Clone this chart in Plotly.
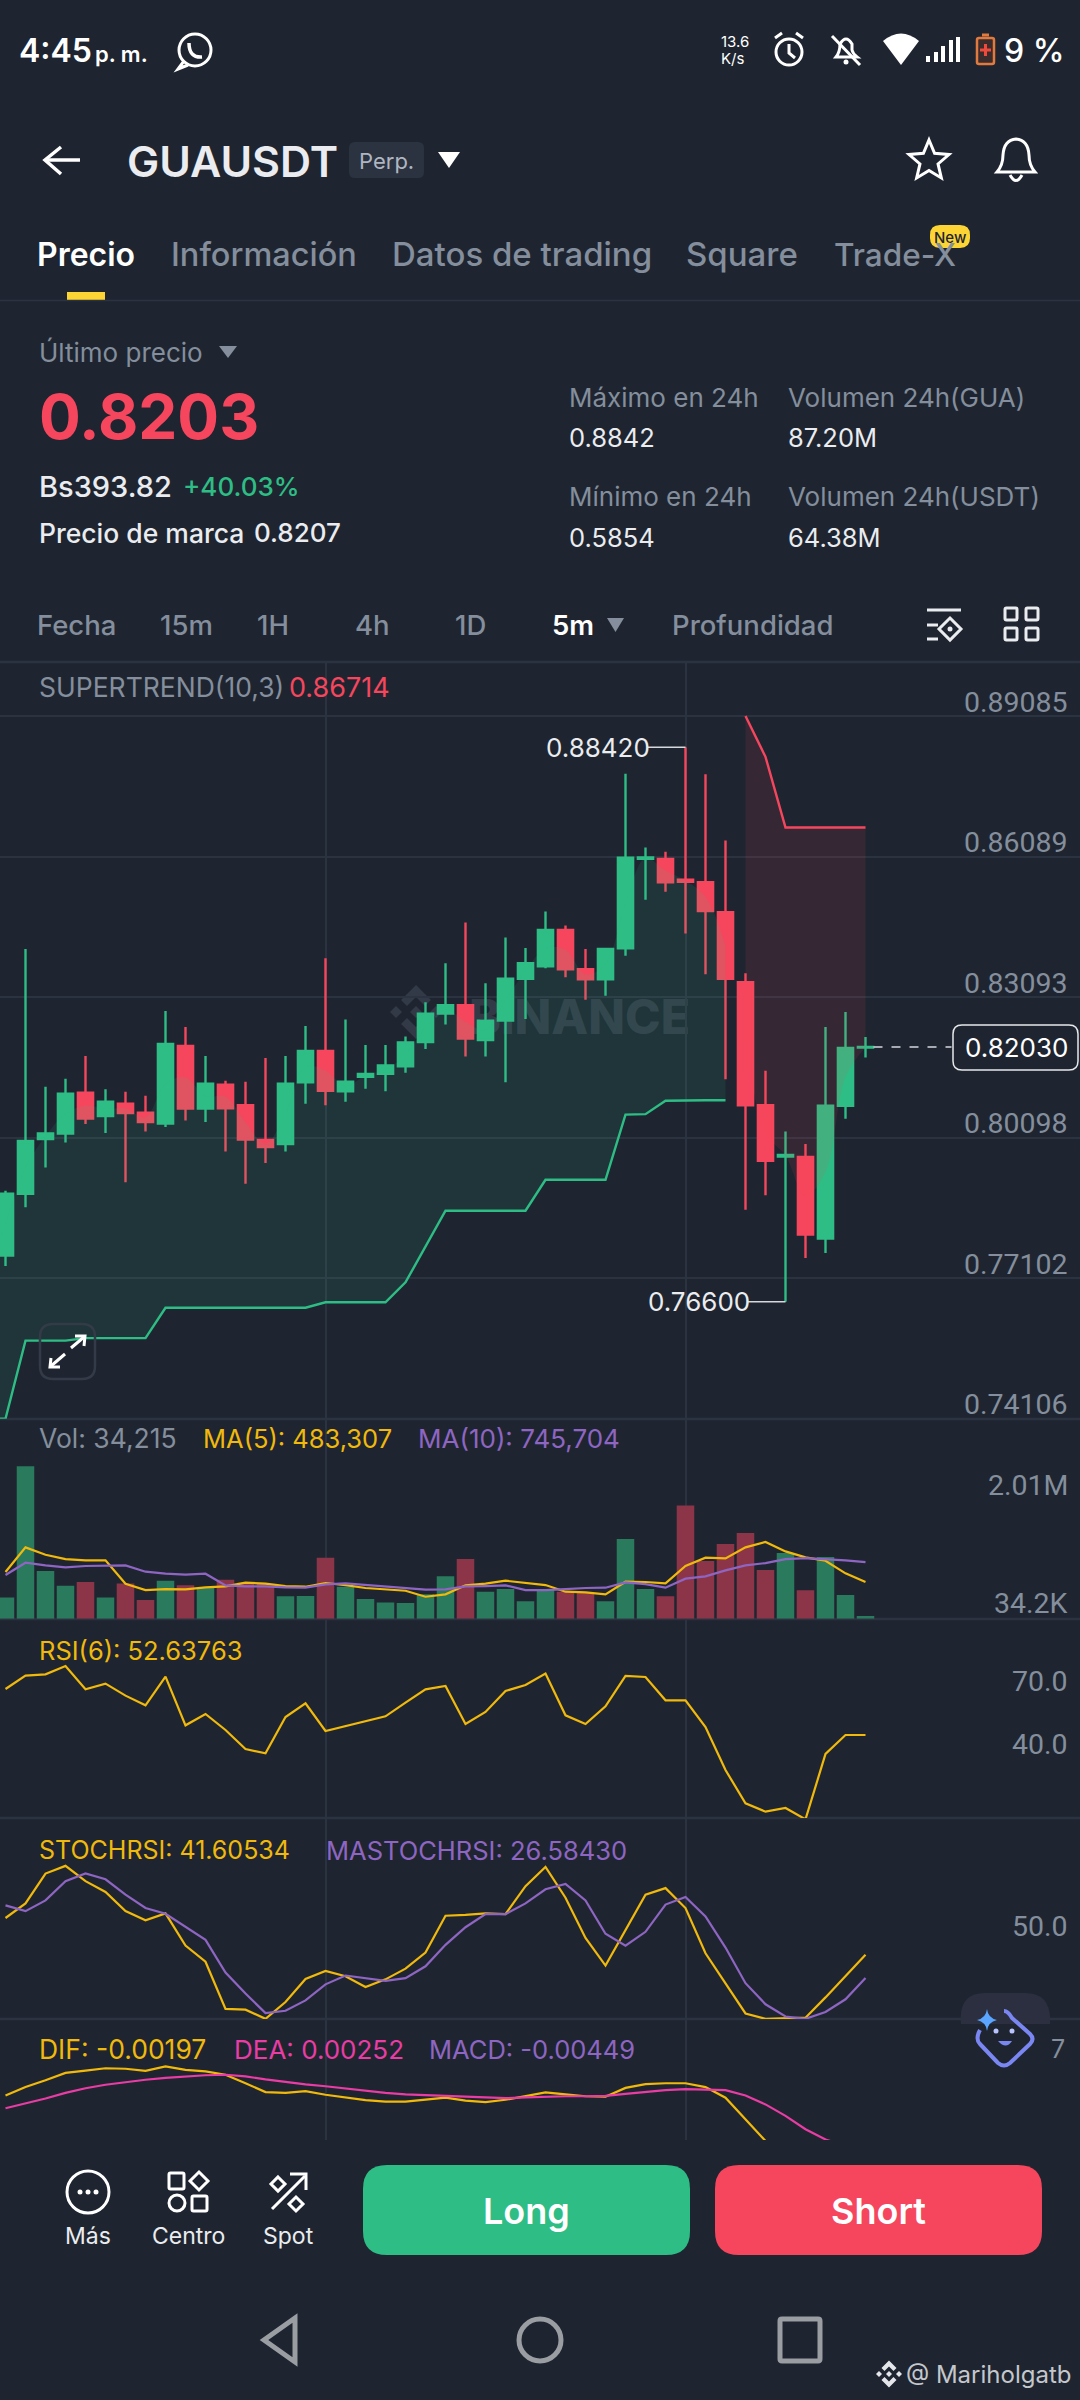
import math
import plotly.graph_objects as go

W = 1080
H = 2400
BG = "#1e2530"
GRAY = "#848e9c"
LIGHT = "#eaecef"
GREEN = "#2ebd85"
RED = "#f6465d"
YELLOW = "#f0b90b"
PURPLE = "#8e65c2"
PINK = "#e93ca4"
GRID = "#2c3340"
FONT = "Inter"

# candles, oldest first
candle_open = [.77585, .78901, .80068, .80184, .81054, .80556, .80821, .80630, .80396, .82051,
               .80715, .81224, .80789, .80046, .79961, .81277, .81945, .81086, .81394, .81457,
               .81616, .82136, .82741, .82921, .82179, .82592, .83484, .83749, .84523, .83685,
               .83473, .84131, .86040, .86040, .85595, .85542, .84905, .83409, .80789, .79696,
               .79686, .77946, .80778, .82015]
candle_high = [.78964, .84120, .81181, .81351, .81839, .81128, .81075, .80991, .82794, .82455,
               .81839, .81309, .81288, .81797, .81839, .82476, .83919, .82614, .82073, .82073,
               .82253, .82985, .83813, .84682, .83388, .84364, .84141, .84916, .84619, .84120,
               .84120, .87855, .86284, .86189, .88420, .87844, .86433, .83600, .81521, .80227,
               .79961, .82455, .82773, .82242]
candle_low = [.77362, .78614, .79463, .79993, .80386, .80195, .79145, .80227, .80322, .80460,
              .80428, .79802, .79113, .79558, .79802, .80821, .80789, .80863, .81139, .81086,
              .81479, .81988, .82508, .81829, .81829, .81277, .82624, .83706, .83515, .83038,
              .83123, .83972, .85170, .85340, .84449, .83579, .81341, .78561, .78869, .76600,
              .77532, .77638, .80502, .81807]
candle_close = [.78901, .80025, .80184, .81033, .80502, .80863, .80619, .80428, .82094, .80715,
                .81245, .80725, .80057, .79898, .81245, .81945, .81097, .81288, .81457, .81638,
                .82126, .82741, .82921, .82211, .82592, .83484, .83813, .84523, .83685, .83473,
                .84120, .86062, .86072, .85542, .85552, .84926, .83484, .80789, .79601, .79728,
                .78031, .80778, .82009, .82030]

# supertrend, first value is the candle just off the left edge
trend_up = [.74105, .74105, .75771, .75771, .75771, .75824, .75824, .75824, .75824, .76471,
            .76471, .76471, .76471, .76471, .76471, .76471, .76471, .76588, .76588, .76588,
            .76588, .77012, .77787, .78540, .78540, .78540, .78540, .78540, .79198, .79198,
            .79198, .79198, .80587, .80598, .80884, .80895, .80895, .80895]
trend_up_before = .7700
trend_down = [.89085, .88215, .86709, .86709, .86709, .86709, .86709]

volume = [281000, 2010000, 629000, 435000, 484000, 281000, 466000, 246000, 501000, 440000,
          409000, 515000, 475000, 457000, 295000, 299000, 805000, 422000, 259000, 215000,
          207000, 321000, 559000, 787000, 356000, 391000, 229000, 387000, 356000, 343000,
          229000, 1051000, 391000, 295000, 1495000, 761000, 985000, 1130000, 642000, 866000,
          374000, 814000, 312000, 34215]
vol_ma5 = [616000, 941000, 844000, 787000, 770000, 770000, 462000, 378000, 391000, 387000,
           413000, 427000, 475000, 462000, 431000, 422000, 471000, 444000, 405000, 387000,
           369000, 290000, 321000, 440000, 462000, 501000, 471000, 444000, 356000, 347000,
           321000, 488000, 484000, 466000, 695000, 805000, 796000, 941000, 1012000, 888000,
           809000, 765000, 598000, 483307]
vol_ma10 = [576000, 739000, 704000, 677000, 695000, 695000, 704000, 620000, 594000, 581000,
            594000, 440000, 427000, 427000, 413000, 409000, 453000, 466000, 444000, 422000,
            400000, 383000, 387000, 427000, 431000, 440000, 378000, 378000, 391000, 405000,
            409000, 479000, 457000, 409000, 528000, 559000, 638000, 704000, 734000, 787000,
            800000, 787000, 770000, 745704]

rsi6 = [74.44, 80.76, 81.39, 85.34, 74.28, 76.97, 71.28, 66.70, 80.29, 57.22,
        62.59, 55.01, 46.00, 43.95, 61.17, 67.65, 54.54, 56.91, 59.12, 61.49,
        67.96, 74.28, 75.86, 57.85, 63.54, 73.49, 76.34, 81.71, 61.96, 57.85,
        66.23, 80.60, 80.13, 69.07, 69.07, 56.43, 36.05, 20.25, 16.31, 18.04,
        12.67, 43.64, 52.64, 52.64]

stoch_rsi = [65.52, 74.99, 94.42, 99.40, 89.44, 82.46, 70.00, 64.03, 68.51, 47.58,
             37.12, 6.48, 5.98, 0.00, 10.96, 25.91, 31.14, 27.65, 20.68, 25.66,
             32.64, 43.10, 67.01, 67.51, 68.51, 68.01, 86.20, 98.65, 78.72, 52.57,
             34.63, 57.55, 80.72, 84.95, 72.00, 42.60, 22.67, 3.49, 0.00, 0.25,
             0.75, 13.95, 27.65, 41.60]
ma_stoch_rsi = [73.74, 70.00, 76.98, 89.44, 94.42, 90.68, 80.72, 72.00, 68.26, 60.04,
                51.32, 30.14, 16.44, 3.74, 5.23, 11.96, 22.42, 28.15, 26.41, 24.66,
                26.41, 34.13, 48.08, 59.54, 68.01, 68.01, 74.99, 84.20, 87.69, 76.98,
                55.31, 47.58, 56.55, 74.24, 79.22, 66.52, 46.34, 23.17, 9.47, 1.49,
                0.00, 4.48, 12.71, 26.58]

dif = [.00593, .00644, .00685, .00729, .00743, .00757, .00754, .00741, .00768, .00747,
       .00738, .00718, .00667, .00614, .00609, .00619, .00598, .00580, .00566, .00557,
       .00557, .00568, .00580, .00563, .00554, .00568, .00591, .00612, .00600, .00589,
       .00586, .00639, .00662, .00667, .00667, .00644, .00580, .00453, .00327, .00184,
       .00046, -.00069, -.00150, -.00197]
dea = [.00517, .00545, .00575, .00609, .00637, .00658, .00674, .00688, .00699, .00708,
       .00715, .00718, .00708, .00690, .00674, .00660, .00649, .00635, .00621, .00609,
       .00600, .00596, .00589, .00584, .00580, .00577, .00582, .00586, .00589, .00589,
       .00591, .00603, .00614, .00626, .00632, .00628, .00626, .00593, .00540, .00471,
       .00391, .00329, .00287, .00252]

price_ticks = [.89085, .86089, .83093, .80098, .77102, .74106]
price_tick_labels = ["0.89085", "0.86089", "0.83093", "0.80098", "0.77102", "0.74106"]

n = len(candle_open)
idx = list(range(n))
mids = [(o + c) / 2 for o, c in zip(candle_open, candle_close)]
n_up = len(trend_up) - 1
up_x = [-1] + idx[:n_up]
up_mid = [trend_up_before] + mids[:n_up]
down_x = idx[n_up:]
down_mid = mids[n_up:]
vol_colors = ["#2a7a5e" if c >= o else "#8c3548" for o, c in zip(candle_open, candle_close)]


def fx(x):
    return x / W


def fy(y):
    return 1 - y / H


def dom(top, bottom):
    return [fy(bottom), fy(top)]


shapes = []
notes = []


def pth(*parts):
    out = []
    i = 0
    while i < len(parts):
        p = parts[i]
        if isinstance(p, str):
            out.append(p)
            i += 1
        else:
            out.append(f"{fx(p):.5f},{fy(parts[i + 1]):.5f}")
            i += 2
    return " ".join(out)


def stroke(path, color="white", width=3, fill=None, layer="above"):
    shapes.append(dict(type="path", xref="paper", yref="paper", path=path, layer=layer,
                       line=dict(color=color, width=width),
                       fillcolor=fill if fill else "rgba(0,0,0,0)"))


def solid(path, color, layer="above"):
    shapes.append(dict(type="path", xref="paper", yref="paper", path=path, layer=layer,
                       line=dict(width=0), fillcolor=color))


def ring(cx, cy, r, color="white", width=3, fill=None):
    shapes.append(dict(type="circle", xref="paper", yref="paper",
                       x0=fx(cx - r), x1=fx(cx + r), y0=fy(cy + r), y1=fy(cy - r),
                       line=dict(color=color, width=width),
                       fillcolor=fill if fill else "rgba(0,0,0,0)"))


def dot(cx, cy, r, color="white"):
    shapes.append(dict(type="circle", xref="paper", yref="paper",
                       x0=fx(cx - r), x1=fx(cx + r), y0=fy(cy + r), y1=fy(cy - r),
                       line=dict(width=0), fillcolor=color))


def rrect(x0, y0, x1, y1, r):
    return pth("M", x0 + r, y0, "L", x1 - r, y0, "Q", x1, y0, x1, y0 + r, "L", x1, y1 - r,
               "Q", x1, y1, x1 - r, y1, "L", x0 + r, y1, "Q", x0, y1, x0, y1 - r, "L", x0, y0 + r,
               "Q", x0, y0, x0 + r, y0, "Z")


def diamond(cx, cy, r):
    return pth("M", cx, cy - r, "L", cx + r, cy, "L", cx, cy + r, "L", cx - r, cy, "Z")


def tri(x0, x1, y0, y1, color):
    solid(pth("M", x0, y0, "L", x1, y0, "L", (x0 + x1) / 2, y1, "Z"), color)


def text(x, y, s, size=24, color=LIGHT, anchor="left", weight=400):
    # annotations carry a little padding, so pull left aligned text back
    if anchor == "left":
        x -= 3
    notes.append(dict(x=fx(x), y=fy(y), xref="paper", yref="paper", text=s, showarrow=False,
                      xanchor=anchor, yanchor="middle", align=anchor,
                      font=dict(family=FONT, size=size, color=color, weight=weight)))


def axis_label(value, yref, s, shift):
    # Roboto has same width digits, so the column lines up like the app's
    notes.append(dict(x=fx(1070), y=value, xref="paper", yref=yref, text=s, showarrow=False,
                      xanchor="right", yanchor="middle", yshift=shift,
                      font=dict(family="Roboto", size=28.5, color=GRAY)))


def logo(cx, cy, s, color, layer="above"):
    solid(diamond(cx, cy, s * 0.3), color, layer)
    solid(diamond(cx - s, cy, s * 0.3), color, layer)
    solid(diamond(cx + s, cy, s * 0.3), color, layer)
    for d in [-1, 1]:
        solid(pth("M", cx, cy + d * 1.35 * s, "L", cx + 0.75 * s, cy + d * 0.6 * s,
                  "L", cx + 0.45 * s, cy + d * 0.3 * s, "L", cx, cy + d * 0.75 * s,
                  "L", cx - 0.45 * s, cy + d * 0.3 * s, "L", cx - 0.75 * s, cy + d * 0.6 * s, "Z"),
              color, layer)


# ---- status bar
text(20, 51, "4:45", 32, "white", weight=600)
text(96, 54, "p. m.", 22, "white", weight=600)
ring(195, 50, 16, "white", 3)
stroke(pth("M", 184, 61, "L", 178, 69, "L", 188, 65))
stroke(pth("M", 189, 43, "Q", 189, 58, 202, 57), "white", 3.5)
text(722, 41, "13.6", 15, "white")
text(722, 58, "K/s", 15, "white")
ring(789, 52, 13)
stroke(pth("M", 789, 44, "L", 789, 53, "L", 795, 58))
stroke(pth("M", 775, 38, "L", 782, 33))
stroke(pth("M", 796, 33, "L", 803, 38))
stroke(pth("M", 836, 57, "Q", 840, 52, 840, 44, "Q", 846, 34, 852, 44, "L", 852, 50, "Q", 853, 54, 857, 57, "Z"))
stroke(pth("M", 832, 36, "L", 860, 65))
dot(846, 62, 2.5)
solid(pth("M", 883, 41, "Q", 901, 26, 919, 41, "L", 901, 65, "Z"), "white")
for bx, bh in [(928, 6), (936, 10), (943, 16), (951, 22), (958, 25)]:
    stroke(pth("M", bx, 62, "L", bx, 62 - bh), "white", 4)
stroke(rrect(977, 38, 994, 64, 2), "#e07a3f", 2.5, "#3a2b2c")
stroke(pth("M", 982, 35, "L", 989, 35), "#e07a3f", 3)
stroke(pth("M", 980, 50, "L", 991, 50), "#f04a3c", 3)
stroke(pth("M", 985.5, 44, "L", 985.5, 56), "#f04a3c", 3)
text(1005, 51, "9 %", 32, "white", weight=500)

# ---- title row
stroke(pth("M", 80, 160, "L", 46, 160), "white", 3.5)
stroke(pth("M", 61, 147, "L", 45, 160, "L", 61, 174), "white", 3.5)
text(128, 161, "GUAUSDT", 43, LIGHT, weight=600)
solid(rrect(349, 142, 424, 178, 6), "#2b3240")
text(386, 161, "Perp.", 22, "#b0b6c0", "center")
tri(438, 460, 152, 168, "white")
star = []
for k in range(10):
    r = 21 if k % 2 == 0 else 9.5
    a = -math.pi / 2 + k * math.pi / 5
    star += ["M" if k == 0 else "L", 929 + r * math.cos(a), 161 + r * math.sin(a)]
stroke(pth(*star, "Z"), "white", 3)
stroke(pth("M", 997, 172, "Q", 1003, 165, 1003, 155, "Q", 1004, 140, 1016, 139, "Q", 1028, 140, 1029, 155,
           "Q", 1029, 165, 1035, 172, "Z"), "white", 3)
stroke(pth("M", 1010, 175, "Q", 1016, 186, 1022, 175), "white", 3)

# ---- tabs
text(38, 254, "Precio", 32, "white", weight=600)
text(172, 254, "Información", 32.5, GRAY, weight=500)
text(393, 254, "Datos de trading", 33, GRAY, weight=500)
text(687, 254, "Square", 33, GRAY, weight=500)
text(835, 254, "Trade-X", 31.5, GRAY, weight=500)
solid(rrect(930, 225, 970, 248, 10), "#fcd535")
text(950, 237, "New", 15, "#1e2530", "center", 500)
solid(pth("M", 67, 292, "L", 105, 292, "L", 105, 300, "L", 67, 300, "Z"), "#fcd535")
stroke(pth("M", 0, 300.5, "L", 1080, 300.5), GRID, 1.5)

# ---- price header
text(40, 352, "Último precio", 26, GRAY)
tri(219, 237, 346, 358, GRAY)
text(40, 416, "0.8203", 62, RED, weight=700)
text(40, 486, "Bs393.82", 29, LIGHT, weight=500)
text(184, 486, "+40.03%", 26, GREEN, weight=500)
text(40, 533, "Precio de marca", 26.5, LIGHT, weight=500)
text(255, 533, "0.8207", 26, LIGHT, weight=500)
text(570, 397, "Máximo en 24h", 26, GRAY)
text(570, 437, "0.8842", 25.5, LIGHT)
text(570, 497, "Mínimo en 24h", 26, GRAY)
text(570, 537, "0.5854", 25.5, LIGHT)
text(789, 397, "Volumen 24h(GUA)", 26, GRAY)
text(789, 437, "87.20M", 25.5, LIGHT)
text(789, 497, "Volumen 24h(USDT)", 26, GRAY)
text(789, 537, "64.38M", 25.5, LIGHT)

# ---- interval row
for lx, s in [(38, "Fecha"), (161, "15m"), (258, "1H"), (356, "4h"), (456, "1D"), (673, "Profundidad")]:
    text(lx, 625, s, 27.5, GRAY, weight=500)
text(553, 625, "5m", 27.5, "white", weight=600)
tri(607, 624, 618, 632, GRAY)
stroke(pth("M", 927, 610, "L", 961, 610), LIGHT, 3)
stroke(pth("M", 927, 625, "L", 938, 625), LIGHT, 3)
stroke(pth("M", 927, 639, "L", 938, 639), LIGHT, 3)
stroke(diamond(950, 629, 11), LIGHT, 3)
dot(950, 629, 2.5, LIGHT)
for sx, sy in [(1005, 608), (1026, 608), (1005, 628), (1026, 628)]:
    stroke(rrect(sx, sy, sx + 12, sy + 12, 1.5), LIGHT, 3)

# ---- panel separators
for sy in [662, 1419, 1619, 1818, 2019]:
    stroke(pth("M", 0, sy, "L", 1080, sy), GRID, 2.5, layer="below")

# ---- chart watermark, under the candles
logo(416, 1012, 20, "#333a47", "below")
shapes.append(dict(type="rect", xref="paper", yref="paper", x0=fx(456), x1=fx(703),
                   y0=fy(1040), y1=fy(990), layer="below", line=dict(width=0),
                   fillcolor="rgba(0,0,0,0)",
                   label=dict(text="BINANCE", textposition="middle center",
                              font=dict(family=FONT, size=48, color="#333a47", weight=800))))

# ---- panel titles
text(40, 687, "SUPERTREND(10,3)", 26.5, GRAY)
text(290, 687, "0.86714", 27, RED)
text(40, 1438, "Vol: 34,215", 26.5, GRAY)
text(204, 1438, "MA(5): 483,307", 25.5, YELLOW)
text(419, 1438, "MA(10): 745,704", 26, PURPLE)
text(40, 1650, "RSI(6): 52.63763", 25.5, YELLOW)
text(40, 1850, "STOCHRSI: 41.60534", 25, YELLOW)
text(327, 1850, "MASTOCHRSI: 26.58430", 25.5, PURPLE)
text(40, 2049, "DIF: -0.00197", 26.5, YELLOW)
text(235, 2049, "DEA: 0.00252", 26, PINK)
text(430, 2049, "MACD: -0.00449", 25.5, PURPLE)

# ---- axis labels, positioned from their values
for v, s in zip(price_ticks, price_tick_labels):
    axis_label(v, "y", s, 14)
axis_label(2010000, "y2", "2.01M", -19)
axis_label(34215, "y2", "34.2K", 13)
axis_label(70.0, "y3", "70.0", 17)
axis_label(40.0, "y3", "40.0", 17)
axis_label(50.0, "y4", "50.0", 15)
text(1067, 2049, "7", 25, GRAY, "right")

# ---- high, low and last price marks
for x0, x1, v in [(32.1, 34, .8842), (37.1, 39, .766)]:
    shapes.append(dict(type="line", xref="x", yref="y", x0=x0, x1=x1, y0=v, y1=v,
                       line=dict(color="#d5d8dc", width=1.5)))
notes.append(dict(x=32.3, y=.8842, xref="x", yref="y", text="0.88420", showarrow=False, xanchor="right",
                  yanchor="middle", font=dict(family=FONT, size=26, color=LIGHT)))
notes.append(dict(x=37.3, y=.766, xref="x", yref="y", text="0.76600", showarrow=False, xanchor="right",
                  yanchor="middle", font=dict(family=FONT, size=26, color=LIGHT)))
shapes.append(dict(type="line", xref="x", yref="y", x0=43.4, x1=47.3, y0=candle_close[-1], y1=candle_close[-1],
                   line=dict(color="#d5d8dc", width=1.5, dash="dash")))
stroke(rrect(953, 1025, 1078, 1070, 9), "#e6e8ea", 1.5, BG)
text(1016, 1047, "0.82030", 26, "white", "center")

# ---- expand button
stroke(rrect(40, 1324, 95, 1379, 13), "#343b48", 2.5)
stroke(pth("M", 51, 1366, "L", 65, 1354), "white", 3)
stroke(pth("M", 51, 1358, "L", 50, 1367, "L", 60, 1367), "white", 3)
stroke(pth("M", 71, 1348, "L", 84, 1337), "white", 3)
stroke(pth("M", 75, 1336, "L", 85, 1336, "L", 84, 1346), "white", 3)

# ---- assistant button
solid(pth("M", 961, 2024, "Q", 958, 1993, 985, 1993, "L", 1025, 1993, "Q", 1052, 1993, 1050, 2024, "Z"), "#2c2f3f")
stroke(pth("M", 1004, 2011, "Q", 1008, 2011, 1012, 2018, "L", 1030, 2034, "Q", 1035, 2039, 1030, 2044,
           "L", 1010, 2063, "Q", 1004, 2068, 998, 2063, "L", 980, 2044, "Q", 975, 2039, 980, 2030), "#7a86f2", 4)
solid(pth("M", 987, 2009, "Q", 988, 2018, 997, 2020, "Q", 988, 2022, 987, 2031, "Q", 986, 2022, 977, 2020,
          "Q", 986, 2018, 987, 2009, "Z"), "#5aa5ff")
dot(996, 2031, 2.5, "#b9c4ff")
dot(1012, 2031, 2.5, "#b9c4ff")
solid(pth("M", 998, 2041, "L", 1012, 2041, "Q", 1006, 2050, 998, 2041, "Z"), "#7a86f2")

# ---- bottom bar
solid(rrect(363, 2165, 690, 2255, 24), GREEN)
solid(rrect(715, 2165, 1042, 2255, 24), RED)
text(526, 2211, "Long", 36, "white", "center", 600)
text(878, 2211, "Short", 36, "white", "center", 600)
ring(88, 2192, 21)
for dx in [-8, 0, 8]:
    dot(88 + dx, 2192, 2.5)
text(88, 2236, "Más", 23, LIGHT, "center")
stroke(rrect(169, 2173, 184, 2189, 1.5))
stroke(diamond(199, 2181, 9))
ring(177, 2203, 8)
stroke(rrect(192, 2196, 207, 2211, 1.5))
text(188, 2236, "Centro", 23, LIGHT, "center")
stroke(pth("M", 272, 2209, "L", 305, 2176))
stroke(pth("M", 290, 2174, "L", 306, 2174, "L", 306, 2190))
stroke(diamond(278, 2184, 7))
stroke(diamond(296, 2204, 7))
text(288, 2236, "Spot", 23, LIGHT, "center")

# ---- android nav
stroke(pth("M", 295, 2318, "L", 264, 2340, "L", 295, 2362, "Z"), "#9a9da1", 5)
ring(540, 2340, 21, "#9a9da1", 5)
stroke(rrect(780, 2319, 820, 2361, 2), "#9a9da1", 5)
logo(889, 2374, 10, "#e4e6e9")
text(907, 2374, "@ Mariholgatb", 24, "#c4c7cc")

# ---- traces
fig = go.Figure()
fig.add_trace(go.Candlestick(x=idx, open=candle_open, high=candle_high, low=candle_low, close=candle_close,
                             xaxis="x", yaxis="y", whiskerwidth=0,
                             increasing=dict(line=dict(color=GREEN, width=2.4), fillcolor=GREEN),
                             decreasing=dict(line=dict(color=RED, width=2.4), fillcolor=RED)))
fig.add_trace(go.Scatter(x=up_x, y=trend_up, mode="lines", yaxis="y", line=dict(color=GREEN, width=2.4)))
fig.add_trace(go.Scatter(x=up_x, y=up_mid, mode="lines", yaxis="y", fill="tonexty",
                         fillcolor="rgba(46,189,133,0.11)", line=dict(width=0, shape="spline")))
fig.add_trace(go.Scatter(x=down_x, y=trend_down, mode="lines", yaxis="y", line=dict(color=RED, width=2.4)))
fig.add_trace(go.Scatter(x=down_x, y=down_mid, mode="lines", yaxis="y", fill="tonexty",
                         fillcolor="rgba(246,70,93,0.11)", line=dict(width=0, shape="spline")))

fig.add_trace(go.Bar(x=idx, y=volume, yaxis="y2", marker=dict(color=vol_colors, line=dict(width=0))))
fig.add_trace(go.Scatter(x=idx, y=vol_ma5, mode="lines", yaxis="y2", line=dict(color=YELLOW, width=2.2)))
fig.add_trace(go.Scatter(x=idx, y=vol_ma10, mode="lines", yaxis="y2", line=dict(color=PURPLE, width=2.2)))

fig.add_trace(go.Scatter(x=idx, y=rsi6, mode="lines", yaxis="y3", cliponaxis=False,
                         line=dict(color=YELLOW, width=2.2)))

fig.add_trace(go.Scatter(x=idx, y=stoch_rsi, mode="lines", yaxis="y4", cliponaxis=False,
                         line=dict(color=YELLOW, width=2.2)))
fig.add_trace(go.Scatter(x=idx, y=ma_stoch_rsi, mode="lines", yaxis="y4", cliponaxis=False,
                         line=dict(color=PURPLE, width=2.2)))

fig.add_trace(go.Scatter(x=idx, y=dif, mode="lines", yaxis="y5", line=dict(color=YELLOW, width=2.2)))
fig.add_trace(go.Scatter(x=idx, y=dea, mode="lines", yaxis="y5", line=dict(color=PINK, width=2.2)))

plain_y = dict(showgrid=False, zeroline=False, showticklabels=False, ticks="", showline=False, anchor="x")

fig.update_layout(
    width=W, height=H, margin=dict(l=0, r=0, t=0, b=0), autosize=False,
    paper_bgcolor=BG, plot_bgcolor=BG, showlegend=False, hovermode=False,
    font=dict(family=FONT), boxgap=0.24, boxgroupgap=0, bargap=0.124,
    xaxis=dict(range=[-0.275, 53.725], domain=[0, 1], anchor="y", showticklabels=False, ticks="",
               tickmode="array", tickvals=[16, 34], showgrid=True, gridcolor=GRID, gridwidth=1.5,
               zeroline=False, showline=False, rangeslider=dict(visible=False)),
    yaxis=dict(range=[.74106, .90236], domain=dom(662, 1418.7), tickmode="array", tickvals=price_ticks[:5],
               showgrid=True, gridcolor=GRID, gridwidth=1.5, zeroline=False, showticklabels=False,
               ticks="", showline=False, anchor="x"),
    yaxis2=dict(range=[0, 2634800], domain=dom(1419, 1618.7), **plain_y),
    yaxis3=dict(range=[13.3, 107.6], domain=dom(1619, 1818), **plain_y),
    yaxis4=dict(range=[-0.1, 130.5], domain=dom(1818, 2019), **plain_y),
    yaxis5=dict(range=[.00326, .01053], domain=dom(2019, 2140), **plain_y),
    shapes=shapes, annotations=notes,
)

# the page's default body margin would shift the whole picture by 8px
fig.write_html("out.html", config={"displayModeBar": False},
               post_script="document.body.style.margin='0';document.body.style.background='#1e2530';")
